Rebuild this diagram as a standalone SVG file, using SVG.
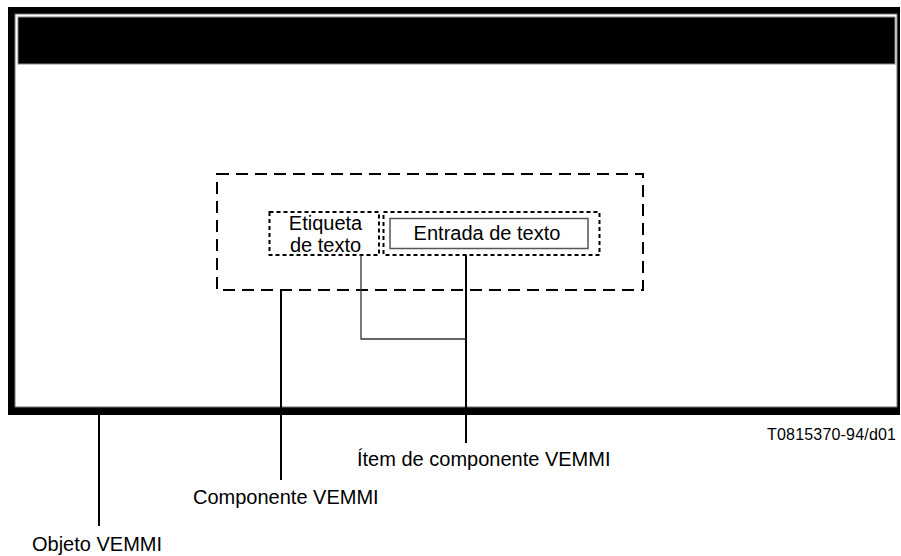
<svg xmlns="http://www.w3.org/2000/svg" width="901" height="556" viewBox="0 0 901 556">
<style>
  .lbl { font-family: "Liberation Sans", Arial, sans-serif; font-size: 20px; fill: #000; }
  .code { font-family: "Liberation Sans", Arial, sans-serif; font-size: 16px; fill: #000; }
  .bigdash { fill: none; stroke: #000; stroke-width: 2; stroke-dasharray: 12 7; }
  .smalldash { fill: none; stroke: #000; stroke-width: 2; stroke-dasharray: 4 3; }
  .lead { fill: none; stroke: #000; stroke-width: 2; }
  .thin { fill: none; stroke: #333; stroke-width: 1.3; }
</style>
<rect width="901" height="556" fill="#fff"/>
<g id="objeto-vemmi">
  <rect x="8" y="7" width="892" height="408" fill="#000"/>
  <rect x="15" y="14" width="882" height="393" fill="#fff" stroke="#777" stroke-width="1"/>
  <rect x="18" y="17" width="877" height="47" fill="#000" stroke="#888" stroke-width="1"/>
</g>
<g id="componente-vemmi">
  <rect class="bigdash" x="217" y="174" width="426" height="116"/>
</g>
<g id="etiqueta-texto">
  <rect class="smalldash" x="269.5" y="212" width="109.5" height="43"/>
  <text class="lbl" x="325.5" y="230" text-anchor="middle">Etiqueta</text>
  <text class="lbl" x="325.5" y="252" text-anchor="middle">de texto</text>
</g>
<g id="item-entrada">
  <rect class="smalldash" x="383.5" y="212" width="216" height="43"/>
  <rect x="390" y="218.5" width="198" height="30" fill="#fff" stroke="#555" stroke-width="1.5"/>
  <text class="lbl" x="487" y="240" text-anchor="middle">Entrada de texto</text>
</g>
<g id="connectors">
  <line class="lead" x1="99" y1="415" x2="99" y2="526"/>
  <line class="lead" x1="281" y1="290" x2="281" y2="480"/>
  <line class="lead" x1="466" y1="255" x2="466" y2="443"/>
  <path class="thin" d="M361,255 V339 H466"/>
</g>
<g id="labels">
  <text class="lbl" x="32" y="551">Objeto VEMMI</text>
  <text class="lbl" x="193" y="504">Componente VEMMI</text>
  <text class="lbl" x="357" y="466">Ítem de componente VEMMI</text>
  <text class="code" x="767" y="440" textLength="129">T0815370-94/d01</text>
</g>
</svg>
